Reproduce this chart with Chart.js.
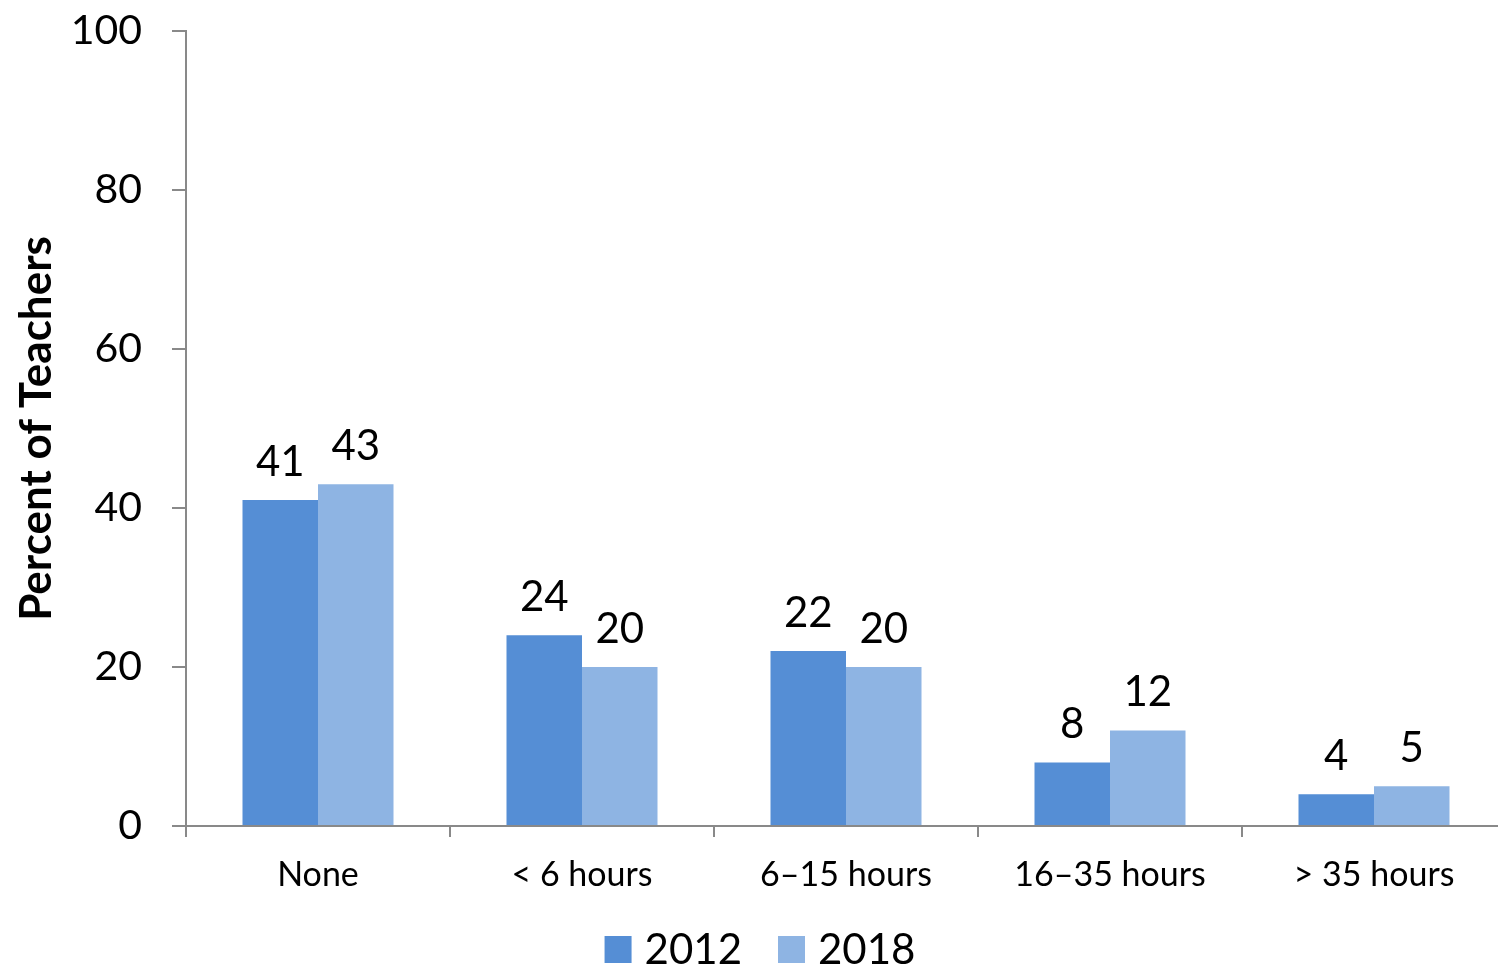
<!DOCTYPE html>
<html>
<head>
<meta charset="utf-8">
<script src="https://cdn.jsdelivr.net/npm/chart.js@4/dist/chart.umd.min.js"></script>
<style>
html,body{margin:0;padding:0;background:#fff;overflow:hidden;}
#wrap{width:1498px;height:966px;overflow:hidden;}
</style>
</head>
<body>
<div id="wrap"><canvas id="c" width="1506" height="966"></canvas></div>
<script>
const categories = ["None", "< 6 hours", "6\u201315 hours", "16\u201335 hours", "> 35 hours"];
const values2012 = [41, 24, 22, 8, 4];
const values2018 = [43, 20, 20, 12, 5];
const yTicks = [0, 20, 40, 60, 80, 100];
const seriesNames = ["2012", "2018"];

const FONT = "Lato, 'Open Sans', sans-serif";
const AXIS = "#898989";

const labelPlugin = {
  id: "barLabels",
  afterDatasetsDraw(chart) {
    const ctx = chart.ctx;
    ctx.save();
    ctx.font = "42px " + FONT;
    ctx.fillStyle = "#000";
    ctx.textAlign = "center";
    ctx.textBaseline = "bottom";
    chart.data.datasets.forEach((ds, i) => {
      const meta = chart.getDatasetMeta(i);
      meta.data.forEach((bar, j) => {
        ctx.fillText(String(ds.data[j]), bar.x, bar.y - 17);
      });
    });
    ctx.restore();
  }
};

// Legend drawn beneath the chart, items taken from the datasets
const legendPlugin = {
  id: "bottomLegend",
  afterDraw(chart) {
    const ctx = chart.ctx;
    const box = 27, gapText = 13, gapItem = 36, centerX = 760, boxTop = 936;
    ctx.save();
    ctx.font = "42px " + FONT;
    ctx.textBaseline = "middle";
    ctx.textAlign = "left";
    const items = chart.data.datasets.map(ds => ({ label: ds.label, color: ds.backgroundColor, w: ctx.measureText(ds.label).width }));
    let total = 0;
    items.forEach((it, i) => { total += box + gapText + it.w + (i < items.length - 1 ? gapItem : 0); });
    let x = centerX - total / 2;
    items.forEach(it => {
      ctx.fillStyle = it.color;
      ctx.fillRect(x, boxTop, box, box);
      ctx.fillStyle = "#000";
      ctx.fillText(it.label, x + box + gapText, boxTop + box / 2 + 1);
      x += box + gapText + it.w + gapItem;
    });
    ctx.restore();
  }
};

new Chart(document.getElementById("c"), {
  type: "bar",
  data: {
    labels: categories,
    datasets: [
      { label: seriesNames[0], data: values2012, backgroundColor: "#558ED5", borderWidth: 0 },
      { label: seriesNames[1], data: values2018, backgroundColor: "#8EB4E3", borderWidth: 0 }
    ]
  },
  options: {
    responsive: false,
    animation: false,
    devicePixelRatio: 1,
    categoryPercentage: 0.572,
    barPercentage: 1.0,
    layout: { padding: { top: 7, right: 0, left: 0, bottom: 74 } },
    plugins: {
      legend: { display: false },
      tooltip: { enabled: false }
    },
    scales: {
      x: {
        grid: { display: true, drawOnChartArea: false, offset: true, color: AXIS, tickLength: 11, lineWidth: 2 },
        border: { color: AXIS, width: 2 },
        ticks: { font: { family: FONT, size: 34 }, color: "#000", padding: 18 },
        afterFit(s) { s.height = 66; }
      },
      y: {
        min: 0, max: 100,
        afterBuildTicks(s) { s.ticks = yTicks.map(v => ({ value: v })); },
        grid: { display: true, drawOnChartArea: false, color: AXIS, tickLength: 14, lineWidth: 2 },
        border: { color: AXIS, width: 2 },
        ticks: { font: { family: FONT, size: 41 }, color: "#000", padding: 30 },
        title: { display: true, text: "Percent of Teachers", font: { family: FONT, size: 44, weight: "bold" }, color: "#000", padding: { top: 10, bottom: 0 } },
        afterFit(s) { s.width = 186; s.paddingTop = 31; s.paddingBottom = 0; }
      }
    }
  },
  plugins: [labelPlugin, legendPlugin]
});
</script>
</body>
</html>
